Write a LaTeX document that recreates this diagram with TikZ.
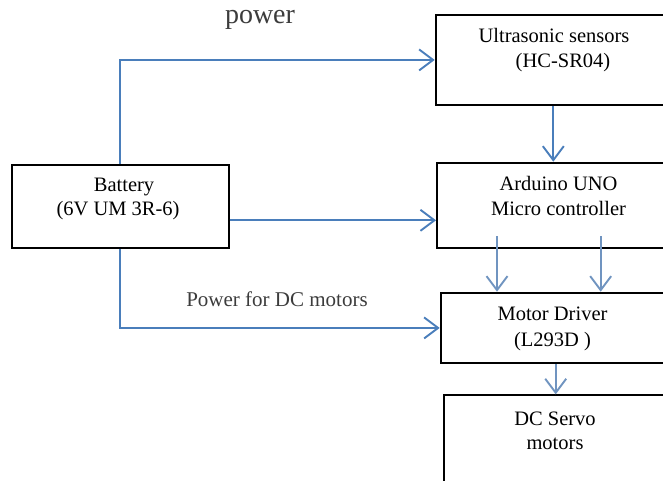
\documentclass[tikz,border=0pt]{standalone}
\usepackage{fontspec}
\setmainfont{Liberation Serif}
\usetikzlibrary{arrows.meta}
\definecolor{linkblue}{HTML}{4A7EBB}
\definecolor{softblue}{HTML}{7094C0}
\definecolor{labelgray}{HTML}{3C3C3C}
\tikzset{
  box/.style={draw=black, line width=1.9pt, anchor=north west, inner sep=0pt, minimum width=260pt},
  boxtext/.style={align=center, inner sep=0pt, font=\fontsize{20.5}{24.5}\selectfont},
  link/.style={draw=linkblue, line width=1.9pt, -{Straight Barb[length=14pt,width=21pt,line width=1.9pt]}},
  softlink/.style={link, draw=softblue},
  freelabel/.style={text=labelgray, inner sep=0pt}
}
\begin{document}
\begin{tikzpicture}[x=1pt,y=-1pt]
\useasboundingbox (0,0) rectangle (663,480);
\clip (0,0) rectangle (663,480);

% boxes
\node[box, minimum width=217pt, minimum height=83pt] (batt) at (10.7,164) {};
\node[box, minimum height=90pt] (ultra) at (434.7,14) {};
\node[box, minimum height=85pt] (ard) at (436,161.7) {};
\node[box, minimum height=70.5pt] (mot) at (439.7,291.7) {};
\node[box, minimum height=130pt] (servo) at (443.3,394.3) {};

% texts
\node[boxtext] (tbatt) at (118,199) {\hspace*{12pt}Battery\\(6V UM 3R-6)};
\node[boxtext] (tultra) at (558.5,50) {Ultrasonic sensors\hspace*{9pt}\\\hspace*{9pt}(HC-SR04)};
\node[boxtext] (tard) at (558.5,196) {Arduino UNO\\Micro controller};
\node[boxtext] (tmot) at (552.5,329) {Motor Driver\\[2pt](L293D )};
\node[boxtext] (tservo) at (555,431) {DC Servo\\motors};

% free labels
\node[freelabel, font=\fontsize{28}{32}\selectfont] (lpower) at (260,20) {power};
\node[freelabel, font=\fontsize{21}{24}\selectfont] (lmotors) at (277,299) {Power for DC motors};

% helper coordinates
\coordinate (xu) at (553.3,0);
\coordinate (xa1) at (497,236);
\coordinate (xa2) at (600.7,236);
\coordinate (xm) at (555.7,0);
\coordinate (yb) at (0,220.3);

% connectors
\draw[link] (batt.north) |- (ultra.west);
\draw[link] (batt.east |- yb) -- (ard.west |- yb);
\draw[link] (batt.south) |- (mot.west);
\draw[link] (ultra.south -| xu) -- (ard.north -| xu);
\draw[softlink] (xa1) -- (mot.north -| xa1);
\draw[softlink] (xa2) -- (mot.north -| xa2);
\draw[softlink] (mot.south -| xm) -- (servo.north -| xm);
\end{tikzpicture}
\end{document}
